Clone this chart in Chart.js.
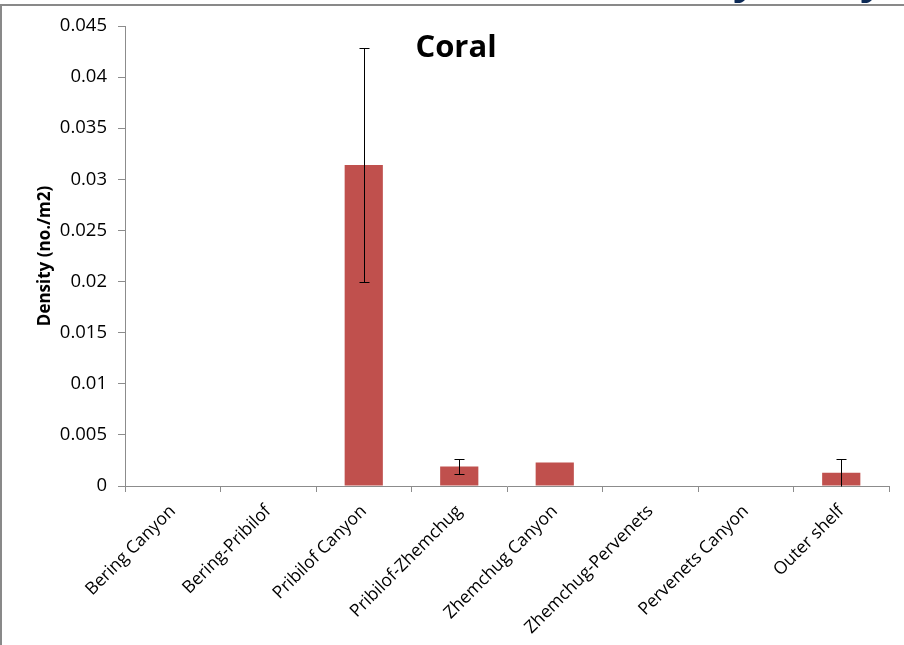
<!DOCTYPE html>
<html>
<head>
<meta charset="utf-8">
<script src="https://cdn.jsdelivr.net/npm/chart.js@4.4.1/dist/chart.umd.min.js"></script>
<style>
  html, body { margin: 0; padding: 0; background: #fff; }
  #wrap { position: relative; width: 904px; height: 645px; }
</style>
</head>
<body>
<div id="wrap"><canvas id="c" width="904" height="645"></canvas></div>
<script>
// Coral density by stratum (mean ± SE)
const categories = [
  'Bering Canyon', 'Bering-Pribilof', 'Pribilof Canyon', 'Pribilof-Zhemchug',
  'Zhemchug Canyon', 'Zhemchug-Pervenets', 'Pervenets Canyon', 'Outer shelf'
];
const densities = [0, 0, 0.0314, 0.0019, 0.0023, 0, 0, 0.0013];
const stdErrors = [0, 0, 0.0114, 0.00073, 0, 0, 0, 0.0013];
const yTickValues = [0, 0.005, 0.01, 0.015, 0.02, 0.025, 0.03, 0.035, 0.04, 0.045];
const chartTitle = 'Coral';
const yAxisTitle = 'Density (no./m2)';

const FONT = "'Open Sans', 'Noto Sans', sans-serif";
const AXIS_GREY = '#8c8c8c';

// Frame around the chart and the descenders of the slide heading above it
const framePlugin = {
  id: 'frame',
  beforeDraw(chart) {
    const ctx = chart.ctx;
    ctx.save();
    ctx.fillStyle = '#ffffff';
    ctx.fillRect(0, 0, chart.width, chart.height);
    ctx.fillStyle = '#0d2a56';
    ctx.font = "bold 44px " + FONT;
    ctx.textBaseline = 'alphabetic';
    ctx.fillText('y', 733, -8.5);
    ctx.fillText('y', 860, -8.5);
    ctx.strokeStyle = '#898989';
    ctx.lineWidth = 2;
    ctx.beginPath();
    ctx.moveTo(0, 5); ctx.lineTo(chart.width, 5);
    ctx.moveTo(1, 4); ctx.lineTo(1, chart.height);
    ctx.stroke();
    ctx.restore();
  }
};

// Error bars drawn from the value and standard error arrays
const errorBarPlugin = {
  id: 'errorBars',
  afterDatasetsDraw(chart) {
    const ctx = chart.ctx;
    const y = chart.scales.y;
    const meta = chart.getDatasetMeta(0);
    const cap = 5;
    ctx.save();
    ctx.strokeStyle = '#000';
    ctx.lineWidth = 1;
    densities.forEach((v, i) => {
      const e = stdErrors[i];
      if (!e) return;
      const x = Math.round(meta.data[i].x) + 0.5;
      const hi = v + e;
      const lo = Math.max(0, v - e);
      const yHi = Math.round(y.getPixelForValue(hi)) + 0.5;
      const yLo = Math.round(y.getPixelForValue(lo)) + 0.5;
      ctx.beginPath();
      ctx.moveTo(x, yHi); ctx.lineTo(x, yLo);
      ctx.moveTo(x - cap, yHi); ctx.lineTo(x + cap, yHi);
      if (v - e > 0) { ctx.moveTo(x - cap, yLo); ctx.lineTo(x + cap, yLo); }
      ctx.stroke();
    });
    ctx.restore();
  }
};

// Chart title placed inside the plot area
const innerTitlePlugin = {
  id: 'innerTitle',
  afterDraw(chart) {
    const ctx = chart.ctx;
    ctx.save();
    ctx.fillStyle = '#000';
    ctx.font = "bold 31px " + FONT;
    ctx.textAlign = 'center';
    ctx.textBaseline = 'alphabetic';
    ctx.fillText(chartTitle, 456, 57);
    ctx.restore();
  }
};

new Chart(document.getElementById('c'), {
  type: 'bar',
  data: {
    labels: categories,
    datasets: [{
      data: densities,
      backgroundColor: '#c0504d',
      borderWidth: 0,
      categoryPercentage: 1.0,
      barPercentage: 0.4
    }]
  },
  options: {
    responsive: false,
    animation: false,
    devicePixelRatio: 1,
    layout: { padding: { top: 26, right: 15, left: 0, bottom: 0 } },
    plugins: {
      legend: { display: false },
      tooltip: { enabled: false },
      title: { display: false }
    },
    scales: {
      x: {
        grid: {
          drawOnChartArea: false,
          drawTicks: true,
          tickLength: 6,
          color: AXIS_GREY,
          offset: true
        },
        border: { display: true, color: AXIS_GREY, width: 1 },
        ticks: {
          color: '#000',
          font: { family: FONT, size: 17.5 },
          minRotation: 45,
          maxRotation: 45,
          autoSkip: false,
          padding: 9
        },
        afterFit(scale) { scale.height = 159; }
      },
      y: {
        min: 0,
        max: 0.045,
        afterBuildTicks(scale) {
          scale.ticks = yTickValues.map(v => ({ value: v }));
        },
        grid: {
          drawOnChartArea: false,
          drawTicks: true,
          tickLength: 7,
          color: AXIS_GREY
        },
        border: { display: true, color: AXIS_GREY, width: 1 },
        ticks: {
          color: '#000',
          font: { family: FONT, size: 18.5 },
          padding: 11,
          callback: v => String(+v.toFixed(3))
        },
        title: {
          display: true,
          text: yAxisTitle,
          color: '#000',
          font: { family: FONT, size: 17, weight: 'bold' },
          padding: { top: 35, bottom: 0 }
        },
        afterFit(scale) { scale.width = 125; }
      }
    }
  },
  plugins: [framePlugin, errorBarPlugin, innerTitlePlugin]
});
</script>
</body>
</html>
